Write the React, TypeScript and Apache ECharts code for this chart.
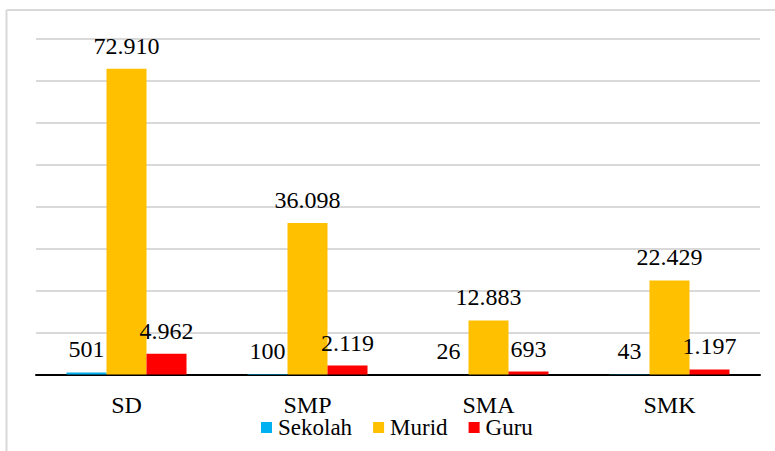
import React, { useEffect, useRef } from "react";
import * as echarts from "echarts";

const categories = ["SD", "SMP", "SMA", "SMK"];
const sekolah = [501, 100, 26, 43];
const murid = [72910, 36098, 12883, 22429];
const guru = [4962, 2119, 693, 1197];
const seriesNames = ["Sekolah", "Murid", "Guru"];
const colors = ["#00B0F0", "#FFC000", "#FF0000"];

const fmt = (v: number) => String(v).replace(/\B(?=(\d{3})+(?!\d))/g, ".");

export default function App() {
  const ref = useRef<HTMLDivElement>(null);
  useEffect(() => {
    if (!ref.current) return;
    const chart = echarts.init(ref.current, undefined, { renderer: "svg" });
    const font = "Liberation Serif";
    const mk = (name: string, data: number[], color: string) => ({
      name,
      type: "bar",
      data,
      barGap: "0%",
      barCategoryGap: "33.7%",
      itemStyle: { color },
      label: {
        show: true,
        position: "top",
        distance: 11,
        color: "#000",
        fontFamily: font,
        fontSize: 24,
        formatter: (p: any) => fmt(p.value),
      },
    });
    chart.setOption({
      animation: false,
      backgroundColor: "#fff",
      textStyle: { fontFamily: font },
      grid: { left: 36, right: 15, top: 39, bottom: 76.5, containLabel: false },
      legend: {
        data: seriesNames,
        left: 261,
        top: 416,
        padding: 0,
        itemWidth: 11,
        itemHeight: 11,
        itemGap: 21,
        icon: "rect",
        textStyle: { fontFamily: font, fontSize: 23, color: "#000", padding: [0, 0, 0, 1] },
      },
      xAxis: {
        type: "category",
        data: categories,
        axisLine: { lineStyle: { color: "#000", width: 2 } },
        axisTick: { show: false },
        axisLabel: { fontFamily: font, fontSize: 24, color: "#000", margin: 18 },
      },
      yAxis: {
        type: "value",
        min: 0,
        max: 80000,
        interval: 10000,
        axisLabel: { show: false },
        axisLine: { show: false },
        axisTick: { show: false },
        splitLine: { lineStyle: { color: "#D9D9D9", width: 2 } },
      },
      graphic: [
        { type: "line", shape: { x1: 6.5, y1: 10, x2: 775, y2: 10 }, style: { stroke: "#D9D9D9", lineWidth: 2 } },
        { type: "line", shape: { x1: 6.5, y1: 10, x2: 6.5, y2: 451 }, style: { stroke: "#D9D9D9", lineWidth: 2 } },
      ],
      series: [
        mk(seriesNames[0], sekolah, colors[0]),
        mk(seriesNames[1], murid, colors[1]),
        mk(seriesNames[2], guru, colors[2]),
      ],
    });
    return () => chart.dispose();
  }, []);
  return <div ref={ref} style={{ position: "absolute", left: 0, top: 0, width: 775, height: 451 }} />;
}
